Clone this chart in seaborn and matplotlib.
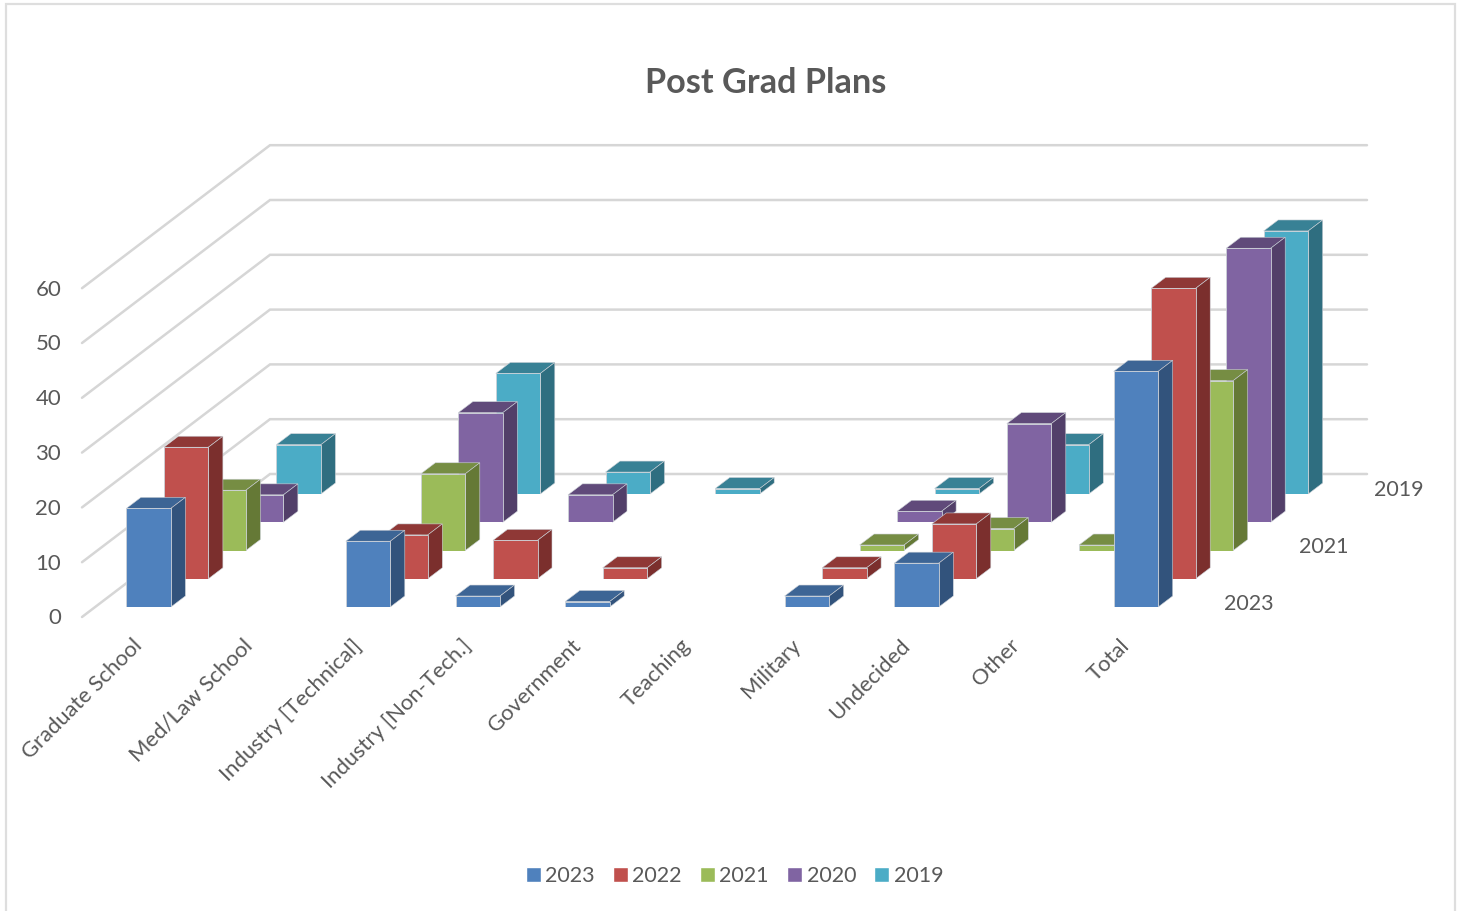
import numpy as np
import pandas as pd
import matplotlib
matplotlib.use("Agg")
import matplotlib.pyplot as plt
import seaborn as sns
from matplotlib.patches import Polygon, Rectangle
from matplotlib.transforms import ScaledTranslation

nan = np.nan

categories = ["Graduate School", "Med/Law School", "Industry [Technical]",
              "Industry [Non-Tech.]", "Government", "Teaching", "Military",
              "Undecided", "Other", "Total"]
years = ["2023", "2022", "2021", "2020", "2019"]
plans_2023 = [18, nan, 12, 2, 1, nan, 2, 8, nan, 43]
plans_2022 = [24, nan, 8, 7, 2, nan, 2, 10, nan, 53]
plans_2021 = [11, nan, 14, nan, nan, nan, 1, 4, 1, 31]
plans_2020 = [5, nan, 20, 5, nan, nan, 2, 18, nan, 50]
plans_2019 = [9, nan, 22, 4, 1, nan, 1, 9, nan, 48]
value_ticks = [0, 10, 20, 30, 40, 50, 60]
depth_labels = ["2023", "2021", "2019"]

series = [plans_2023, plans_2022, plans_2021, plans_2020, plans_2019]
front_colors = ["#4F81BD", "#C0504D", "#9BBB59", "#8064A2", "#4BACC6"]
top_colors = ["#3D6595", "#8F3836", "#768D43", "#604A7A", "#388195"]
side_colors = ["#32537C", "#7B2F2D", "#657936", "#523F69", "#2F6E80"]

# layout of the fake 3D box, in pixels of the 1462x911 picture
W, H = 1462, 911
CAT_PX = 109.7
VAL_PX = 5.48
ROW_DX, ROW_DY = 37.5, 28.25
CAP_DX, CAP_DY = 14.5, 11
GRID = "#D6D6D6"
EDGE = "#CDD2D8"
TEXT = "#595959"

sns.set_theme(style="white")
plt.rcParams["font.family"] = ["Lato", "DejaVu Sans"]


def place_axes(fig, left, base, zorder):
    # axes whose value 0 sits at pixel row "base"
    width = CAT_PX * len(categories)
    height = VAL_PX * 70
    ax = fig.add_axes([left / W, 1 - base / H, width / W, height / H], zorder=zorder)
    ax.patch.set_visible(False)
    ax.set_xlim(-0.5, len(categories) - 0.5)
    ax.set_ylim(0, 70)
    sns.despine(ax=ax, left=True, bottom=True)
    ax.tick_params(length=0)
    ax.set_xticks([])
    ax.set_yticks([])
    ax.set_xlabel("")
    ax.set_ylabel("")
    return ax


fig = plt.figure(figsize=(W / 100, H / 100), dpi=100, facecolor="white")
fig.add_artist(Rectangle((5.5 / W, -0.02), 1449 / W, 1 - 3.5 / H + 0.02,
                         transform=fig.transFigure, fill=False,
                         edgecolor="#DEDEDE", linewidth=1.6))
fig.text(766 / W, 1 - 83 / H, "Post Grad Plans", ha="center", va="center",
         fontsize=24.7, fontweight="bold", color=TEXT)

# back wall and left wall
wall = place_axes(fig, 270, 474, 0)
wall_dx = 188 / CAT_PX
wall_dy = 143 / VAL_PX
for v in value_ticks:
    wall.plot([-0.5 - wall_dx, -0.5, len(categories) - 0.5], [v - wall_dy, v, v],
              color=GRID, lw=1.8, clip_on=False, solid_joinstyle="miter")

# value labels at the front edge of the left wall
front = place_axes(fig, 82, 616.5, 1)
front.set_yticks(value_ticks)
front.set_yticklabels([str(v) for v in value_ticks], fontsize=16, color=TEXT)
front.tick_params(axis="y", pad=15, length=0)

# one row of bars per year, back row first
for row in range(len(series) - 1, -1, -1):
    left = 93.8 + row * ROW_DX
    base = 607 - row * ROW_DY
    ax = place_axes(fig, left, base, 10 - row)
    df = pd.DataFrame({"plan": categories, "count": series[row]})
    sns.barplot(data=df, x="plan", y="count", order=categories, ax=ax,
                color=front_colors[row], saturation=1, width=44.5 / CAT_PX,
                edgecolor=EDGE, linewidth=0.6, zorder=3)
    ax.set_ylim(0, 70)
    ax.set_xlim(-0.5, len(categories) - 0.5)
    ax.set_xlabel("")
    ax.set_ylabel("")
    ax.set_yticks([])
    dx = CAP_DX / CAT_PX
    dy = CAP_DY / VAL_PX
    for bar in ax.patches:
        h = bar.get_height()
        if not np.isfinite(h) or h <= 0:
            continue
        x0, x1 = bar.get_x(), bar.get_x() + bar.get_width()
        ax.add_patch(Polygon([(x0, h), (x1, h), (x1 + dx, h + dy), (x0 + dx, h + dy)],
                             facecolor=top_colors[row], edgecolor=EDGE,
                             linewidth=0.4, clip_on=False, zorder=2))
        ax.add_patch(Polygon([(x1, 0), (x1 + dx, dy), (x1 + dx, h + dy), (x1, h)],
                             facecolor=side_colors[row], edgecolor=EDGE,
                             linewidth=0.4, clip_on=False, zorder=2))
    if row == 0:
        ax.set_xticks(range(len(categories)))
        ax.set_xticklabels(categories, rotation=45, ha="right", va="top",
                           rotation_mode="anchor", fontsize=15.8, color=TEXT)
        ax.tick_params(axis="x", pad=20.5, length=0)
        shift = ScaledTranslation(-16.5 / 100, 0, fig.dpi_scale_trans)
        for lab in ax.get_xticklabels():
            lab.set_transform(lab.get_transform() + shift)
    if years[row] in depth_labels:
        ax.annotate(years[row], xy=(1, 0), xycoords=("axes fraction", "data"),
                    xytext=(33.5, 3.5), textcoords="offset pixels", ha="left",
                    va="center", fontsize=15.5, color=TEXT)

handles = [Rectangle((0, 0), 1, 1, facecolor=c) for c in front_colors]
fig.legend(handles, years, loc="center", bbox_to_anchor=(734.5 / W, 1 - 876 / H),
           ncol=5, frameon=False, fontsize=15.5, labelcolor=TEXT,
           handlelength=0.7, handleheight=0.7, handletextpad=0.2, columnspacing=0.85)

fig.savefig("out.png", dpi=100)
